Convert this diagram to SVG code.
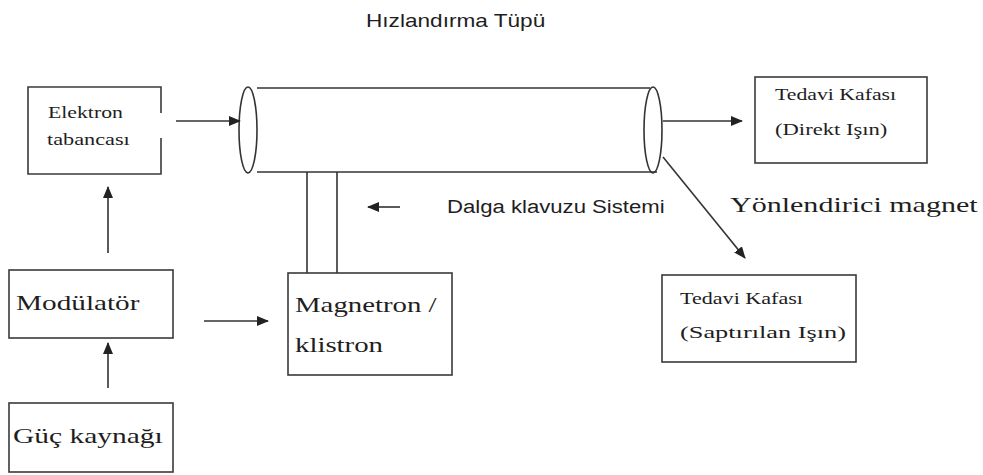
<svg xmlns="http://www.w3.org/2000/svg" width="983" height="475" viewBox="0 0 983 475">
<style>
.box{fill:none;stroke:#3a3a3a;stroke-width:1.6}
.ln{fill:none;stroke:#333;stroke-width:1.6}
.ser{font-family:"Liberation Serif","DejaVu Serif",serif;fill:#1e1e1e}
.san{font-family:"Liberation Sans","DejaVu Sans",sans-serif;fill:#1e1e1e}
</style>
<defs>
<marker id="ah" markerWidth="12" markerHeight="10" refX="11" refY="5" orient="auto" markerUnits="userSpaceOnUse">
<path d="M0,0 L12,5 L0,10 Z" fill="#222"/>
</marker>
</defs>
<rect width="983" height="475" fill="#fff"/>

<text class="san" transform="translate(366,27) scale(1.19,1)" font-size="19">Hızlandırma Tüpü</text>

<g id="tube">
<line class="ln" x1="257" y1="88" x2="650" y2="88"/>
<line class="ln" x1="257" y1="172" x2="657" y2="172"/>
<ellipse class="ln" cx="248" cy="130" rx="9" ry="43" fill="#fff"/>
<ellipse class="ln" cx="653" cy="130" rx="9" ry="43" fill="none"/>
</g>

<g id="waveguide">
<line class="ln" x1="307" y1="172" x2="307" y2="273"/>
<line class="ln" x1="337" y1="172" x2="337" y2="273"/>
<text class="san" transform="translate(447,213) scale(1.23,1)" font-size="18">Dalga klavuzu Sistemi</text>
</g>

<g id="elektron">
<path class="box" d="M161,113 V87 H28 V174 H161 V138"/>
<text class="ser" transform="translate(48,118) scale(1.28,1)" font-size="17">Elektron</text>
<text class="ser" transform="translate(47,145) scale(1.31,1)" font-size="17">tabancası</text>
</g>

<g id="modulator">
<rect class="box" x="9" y="270" width="164" height="68"/>
<text class="ser" transform="translate(16,310) scale(1.33,1)" font-size="22">Modülatör</text>
</g>

<g id="guc">
<rect class="box" x="9" y="403" width="164" height="69"/>
<text class="ser" transform="translate(13,443) scale(1.34,1)" font-size="22">Güç kaynağı</text>
</g>

<g id="magnetron">
<rect class="box" x="288" y="273" width="164" height="102"/>
<text class="ser" transform="translate(295,312) scale(1.31,1)" font-size="22">Magnetron /</text>
<text class="ser" transform="translate(295,352) scale(1.31,1)" font-size="22">klistron</text>
</g>

<g id="tedavi-direkt">
<rect class="box" x="755" y="77" width="172" height="86"/>
<text class="ser" transform="translate(775,100) scale(1.28,1)" font-size="17">Tedavi Kafası</text>
<text class="ser" transform="translate(775,135) scale(1.33,1)" font-size="17">(Direkt Işın)</text>
</g>

<g id="tedavi-saptirilan">
<rect class="box" x="662" y="275" width="194" height="87"/>
<text class="ser" transform="translate(680,304) scale(1.3,1)" font-size="17">Tedavi Kafası</text>
<text class="ser" transform="translate(680,338) scale(1.55,1)" font-size="17">(Saptırılan Işın)</text>
</g>

<g id="yonlendirici">
<text class="ser" transform="translate(730,212) scale(1.43,1)" font-size="21">Yönlendirici magnet</text>
</g>

<g id="connectors">
<line class="ln" x1="176" y1="121" x2="240" y2="121" marker-end="url(#ah)"/>
<line class="ln" x1="108" y1="253" x2="108" y2="187" marker-end="url(#ah)"/>
<line class="ln" x1="108" y1="388" x2="108" y2="343" marker-end="url(#ah)"/>
<line class="ln" x1="204" y1="321" x2="268" y2="321" marker-end="url(#ah)"/>
<line class="ln" x1="400" y1="207" x2="368" y2="207" marker-end="url(#ah)"/>
<line class="ln" x1="663" y1="121" x2="742" y2="121" marker-end="url(#ah)"/>
<line class="ln" x1="663" y1="157" x2="745" y2="258" marker-end="url(#ah)"/>
</g>
</svg>
